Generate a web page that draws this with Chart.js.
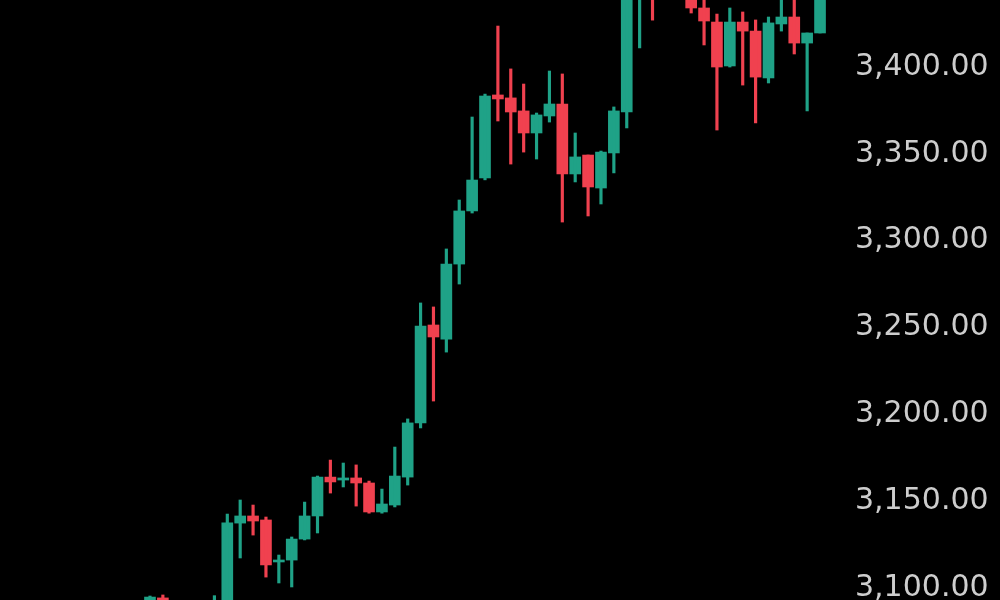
<!DOCTYPE html>
<html>
<head>
<meta charset="utf-8">
<script src="https://cdn.jsdelivr.net/npm/chart.js@4/dist/chart.umd.min.js"></script>
<style>
  html, body { margin: 0; padding: 0; background: #000; overflow: hidden; }
  #wrap { width: 1000px; height: 600px; position: relative; }
  canvas { display: block; }
</style>
</head>
<body>
<div id="wrap"><canvas id="c" width="1000" height="600"></canvas></div>
<script>
// Candle index (one per period)
const candleIndex = [0,1,2,3,4,5,6,7,8,9,10,11,12,13,14,15,16,17,18,19,20,21,22,23,24,25,26,27,28,29,30,31,32,33,34,35,36,37,38,39,40,41,42,43,44,45,46,47,48,49,50,51,52];
const opens  = [3088,3094.2,3090,3085,3082,3086,3088,3137.3,3141.4,3139.1,3114.9,3116.0,3128.1,3141.4,3163.8,3162.1,3163.3,3160.4,3143.7,3147.7,3163.8,3195.0,3251.4,3243.3,3286.5,3317.1,3336.1,3383.9,3382.2,3374.7,3362.0,3371.8,3378.7,3338.4,3349.3,3330.3,3350.5,3374.1,3450,3465,3448,3455,3445,3434.0,3425.9,3400.6,3425.9,3420.7,3393.7,3424.8,3428.8,3413.8,3419.6];
const closes = [3094.7,3090,3085,3082,3086,3088,3137.5,3141.4,3138.5,3113.2,3116.0,3128.1,3141.4,3163.8,3161.0,3163.3,3160.4,3143.7,3148.3,3164.4,3195.0,3250.8,3244.5,3286.5,3317.1,3334.9,3383.3,3381.6,3374.1,3362.0,3372.4,3378.7,3338.4,3348.2,3330.9,3351.0,3374.7,3452,3462,3448,3455,3446,3434.0,3426.5,3400.0,3425.9,3420.7,3394.2,3425.4,3428.8,3413.8,3419.6,3445];
const highs  = [3095.3,3095.9,3092,3089,3090,3095.5,3142.5,3150.6,3147.7,3140.8,3118.9,3129.3,3149.4,3164.4,3173.6,3171.9,3170.8,3161.5,3156.9,3181.1,3197.3,3264.1,3261.8,3295.2,3323.4,3371.2,3384.4,3423.6,3398.9,3390.2,3373.5,3397.7,3396.0,3362.0,3349.3,3351.6,3377.0,3458,3468,3472,3462,3460,3449,3441,3430.5,3434.0,3431.7,3427.1,3428.8,3442,3444,3419.6,3450];
const lows   = [3085,3087,3080,3076,3078,3081,3085,3117.2,3130.4,3106.2,3102.8,3100.5,3127.6,3131.6,3154.6,3158.1,3147.1,3143.0,3143.0,3146.6,3159.2,3192.1,3207.6,3235.8,3275.0,3315.9,3335.0,3368.9,3344.1,3351.0,3347.0,3368.3,3310.7,3333.8,3314.2,3321.1,3339.0,3364.9,3411,3427,3441,3440,3431.1,3412.7,3363.7,3400.0,3389.6,3367.8,3390.8,3420.7,3407.5,3374.7,3419.6];
// Price axis tick labels
const tickValues = [3100, 3150, 3200, 3250, 3300, 3350, 3400];

const UP = '#1fa287';
const DOWN = '#f0414f';
const colorFor = (i) => closes[i] >= opens[i] ? UP : DOWN;

const wickData = candleIndex.map((x, i) => ({ x: x, y: [lows[i], highs[i]] }));
const bodyData = candleIndex.map((x, i) => ({ x: x, y: [opens[i], closes[i]] }));

new Chart(document.getElementById('c'), {
  type: 'bar',
  data: {
    datasets: [
      {
        label: 'wick',
        data: wickData,
        backgroundColor: candleIndex.map((_, i) => colorFor(i)),
        barThickness: 2.5,
        grouped: false,
        borderWidth: 0
      },
      {
        label: 'body',
        data: bodyData,
        backgroundColor: candleIndex.map((_, i) => colorFor(i)),
        barThickness: 11,
        minBarLength: 2,
        grouped: false,
        borderWidth: 0
      }
    ]
  },
  options: {
    responsive: false,
    animation: false,
    maintainAspectRatio: false,
    devicePixelRatio: 1,
    layout: { padding: 0, autoPadding: false },
    plugins: { legend: { display: false }, tooltip: { enabled: false } },
    scales: {
      x: {
        type: 'linear',
        display: false,
        min: -11.64,
        max: 53.55,
        offset: false
      },
      y: {
        position: 'right',
        min: 3093.0,
        max: 3438.6,
        grid: { display: false, drawTicks: false },
        border: { display: false },
        afterBuildTicks: (scale) => { scale.ticks = tickValues.map(v => ({ value: v })); },
        afterFit: (scale) => { scale.width = 160; scale.paddingTop = 0; scale.paddingBottom = 0; },
        ticks: {
          padding: 15,
          color: '#cdcdcd',
          font: { family: 'DejaVu Sans', size: 30 },
          autoSkip: false,
          callback: (v) => Number(v).toLocaleString('en-US', { minimumFractionDigits: 2, maximumFractionDigits: 2 })
        }
      }
    }
  }
});
</script>
</body>
</html>
